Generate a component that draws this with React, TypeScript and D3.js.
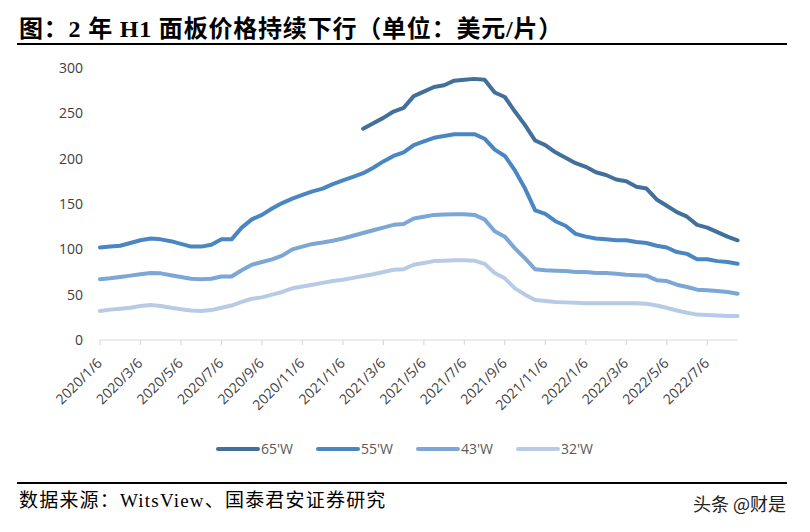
import React from "react";
import * as d3 from "d3";

const categories: string[] = [
  "2020/1/6","2020/1/20","2020/2/6","2020/2/20","2020/3/6","2020/3/20","2020/4/6","2020/4/20",
  "2020/5/6","2020/5/20","2020/6/6","2020/6/20","2020/7/6","2020/7/20","2020/8/6","2020/8/20",
  "2020/9/6","2020/9/20","2020/10/6","2020/10/20","2020/11/6","2020/11/20","2020/12/6","2020/12/20",
  "2021/1/6","2021/1/20","2021/2/6","2021/2/20","2021/3/6","2021/3/20","2021/4/6","2021/4/20",
  "2021/5/6","2021/5/20","2021/6/6","2021/6/20","2021/7/6","2021/7/20","2021/8/6","2021/8/20",
  "2021/9/6","2021/9/20","2021/10/6","2021/10/20","2021/11/6","2021/11/20","2021/12/6","2021/12/20",
  "2022/1/6","2022/1/20","2022/2/6","2022/2/20","2022/3/6","2022/3/20","2022/4/6","2022/4/20",
  "2022/5/6","2022/5/20","2022/6/6","2022/6/20","2022/7/6","2022/7/20","2022/8/6","2022/8/20",
];

// null = no data
const w65: (number | null)[] = [
  null,null,null,null,null,null,null,null,null,null,null,null,null,null,null,null,
  null,null,null,null,null,null,null,null,null,null,
  233,239,245,252,256,269,274,279,281,286,287,288,287,273,268,252,237,220,215,207,
  201,195,191,185,182,177,175,169,167,155,148,141,136,127,124,119,114,110,
];
const w55: number[] = [
  102,103,104,107,110,112,111,109,106,103,103,105,111,111,124,133,
  138,145,151,156,160,164,167,172,176,180,184,190,197,203,207,215,
  219,223,225,227,227,227,222,210,203,187,167,143,139,131,126,117,
  114,112,111,110,110,108,107,104,102,97,95,89,89,87,86,84,
];
const w43: number[] = [
  67,68,69.5,71,72.5,74,73.5,71.5,69.5,67.5,67,67.5,70,70,77,83,
  86,89,93,100,103,106,107.5,109.5,112,115,118,121,124,127,128,134,
  136,138,138.5,138.6,138.6,138,133,120,114,101,90,78,77,76.5,76,75,
  75,74,74,73,72,71.5,71,66,65,61,58.5,55.5,55,54,53,51,
];
const w32: number[] = [
  32,33.5,34.5,35.5,37.5,38.5,37.5,35.5,34,32.5,32,33,35.5,38,42,45.5,
  47,50,53,57,59,61,63,65,66.5,68.5,70.5,72.5,75,77.5,78,83,
  85,87,87.5,88,88,87.5,84,74,68,57,50,44,43,42,41.5,41,
  40.5,40.5,40.5,40.5,40.5,40.5,40,38,35.5,32.5,30,28,27.5,27,26.5,26.5,
];

const seriesNames = ["65'W", "55'W", "43'W", "32'W"];
const seriesColors = ["#42709a", "#4a86c1", "#7ba6d6", "#b7cbe6"];
const yTicks = [0, 50, 100, 150, 200, 250, 300];

const title = "图：2 年 H1 面板价格持续下行（单位：美元/片）";
const source = "数据来源：WitsView、国泰君安证券研究";
const watermark = "头条 @财是";

export default function App() {
  const W = 810, H = 532;
  const x = d3.scaleLinear().domain([0, categories.length - 1]).range([100, 737.6]);
  const y = d3.scaleLinear().domain([0, 300]).range([340, 68]);
  const allSeries = [w65, w55, w43, w32];
  const line = d3
    .line<number | null>()
    .defined((d) => d !== null)
    .x((_, i) => x(i))
    .y((d) => y(d as number));

  const tickIdx = categories.map((_, i) => i).filter((i) => i % 4 === 0);
  const legendX = [218, 318, 418, 518];

  return (
    <svg
      width={W}
      height={H}
      style={{ position: "absolute", left: 0, top: 0, background: "#fff" }}
    >
      <rect x={0} y={0} width={W} height={H} fill="#fff" />
      {/* title */}
      <text
        x={19}
        y={37}
        fontFamily="'Liberation Serif','Noto Sans CJK SC',serif"
        fontWeight="bold"
        fontSize={24}
        letterSpacing={0.8}
        fill="#000"
      >
        {title}
      </text>
      <line x1={17} x2={787} y1={44} y2={44} stroke="#000" strokeWidth={2} />

      {/* y tick labels */}
      {yTicks.map((t) => (
        <text
          key={t}
          x={83}
          y={y(t)}
          dy="0.35em"
          textAnchor="end"
          fontFamily="'Open Sans',sans-serif"
          fontSize={14}
          fill="#404040"
        >
          {t}
        </text>
      ))}

      {/* x axis */}
      <line x1={x(0)} x2={x(categories.length - 1)} y1={y(0)} y2={y(0)} stroke="#d9d9d9" strokeWidth={1.2} />
      {tickIdx.map((i) => (
        <line key={"t" + i} x1={x(i)} x2={x(i)} y1={y(0)} y2={y(0) + 5} stroke="#d9d9d9" strokeWidth={1.2} />
      ))}
      {tickIdx.map((i) => (
        <text
          key={"l" + i}
          transform={`translate(${x(i) + 3},${y(0) + 24}) rotate(-45)`}
          textAnchor="end"
          fontFamily="'Open Sans',sans-serif"
          fontSize={14}
          fill="#404040"
        >
          {categories[i]}
        </text>
      ))}

      {/* lines */}
      {allSeries.map((s, k) => (
        <path
          key={k}
          d={line(s as (number | null)[]) || ""}
          fill="none"
          stroke={seriesColors[k]}
          strokeWidth={4}
          strokeLinejoin="round"
          strokeLinecap="round"
        />
      ))}

      {/* legend */}
      {seriesNames.map((n, k) => (
        <g key={n}>
          <line
            x1={legendX[k]}
            x2={legendX[k] + 40}
            y1={449}
            y2={449}
            stroke={seriesColors[k]}
            strokeWidth={4}
            strokeLinecap="round"
          />
          <text
            x={legendX[k] + 43}
            y={449}
            dy="0.35em"
            fontFamily="'Open Sans',sans-serif"
            fontSize={14}
            fill="#595959"
          >
            {n}
          </text>
        </g>
      ))}

      {/* footer */}
      <line x1={17} x2={787} y1={483} y2={483} stroke="#000" strokeWidth={2} />
      <text
        x={19}
        y={507}
        fontFamily="'Liberation Serif','Noto Sans CJK SC',serif"
        fontSize={19}
        letterSpacing={1.2}
        fill="#000"
      >
        {source}
      </text>
      <text
        x={786}
        y={511}
        textAnchor="end"
        fontFamily="'Noto Sans CJK SC',sans-serif"
        fontSize={18}
        fill="#222"
      >
        {watermark}
      </text>
    </svg>
  );
}
